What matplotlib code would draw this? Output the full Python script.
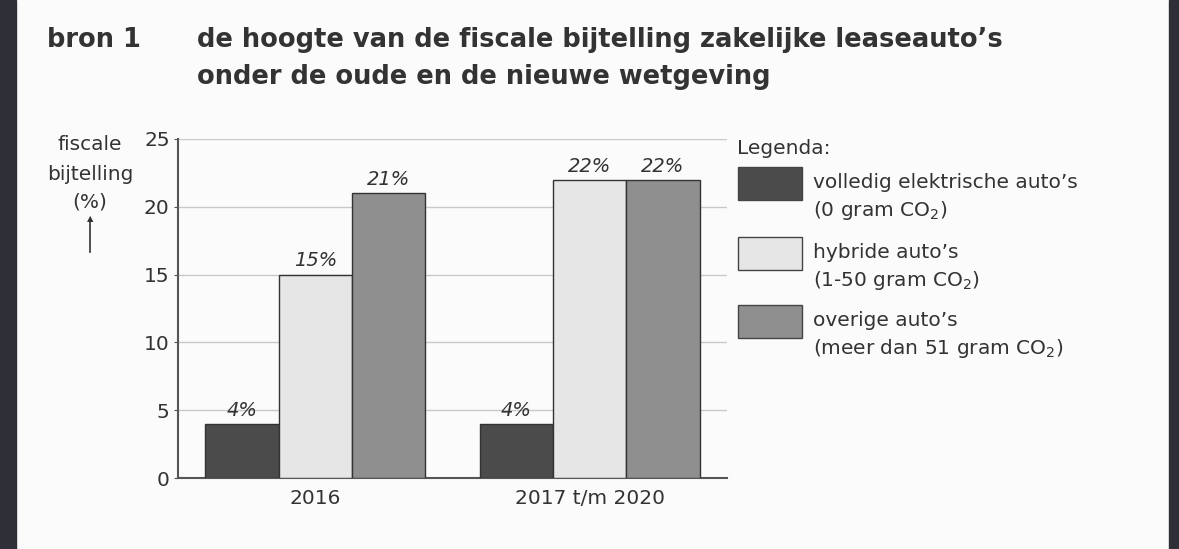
import matplotlib.pyplot as plt
from matplotlib.patches import Rectangle
import numpy as np

# data
periods = ['2016', '2017 t/m 2020']
series_names = ["volledig elektrische auto\u2019s", "hybride auto\u2019s", "overige auto\u2019s"]
series_notes = ['(0 gram CO$_2$)', '(1-50 gram CO$_2$)', '(meer dan 51 gram CO$_2$)']
electric = [4, 4]
hybrid = [15, 22]
other = [21, 22]
colors = ['#4b4b4b', '#e6e6e6', '#8f8f8f']
yticks = [0, 5, 10, 15, 20, 25]

W, H = 1179, 549
fig = plt.figure(figsize=(W / 100, H / 100), dpi=100)
fig.patch.set_facecolor('#fbfbfb')

# dark frame strips at the left and right edge
fig.add_artist(Rectangle((0, 0), 16 / W, 1, transform=fig.transFigure, color='#2f2f37', zorder=0))
fig.add_artist(Rectangle((1169 / W, 0), 10 / W, 1, transform=fig.transFigure, color='#2f2f37', zorder=0))

def fx(px):
    return px / W

def fy(py):
    return 1 - py / H

TXT = '#333333'
FS = 14.5

# heading
fig.text(fx(47), fy(47), 'bron 1', fontsize=18.5, fontweight='bold', color=TXT, va='baseline')
fig.text(fx(197), fy(47), "de hoogte van de fiscale bijtelling zakelijke leaseauto\u2019s",
         fontsize=18.5, fontweight='bold', color=TXT, va='baseline')
fig.text(fx(197), fy(84), 'onder de oude en de nieuwe wetgeving',
         fontsize=18.5, fontweight='bold', color=TXT, va='baseline')

ax = fig.add_axes([fx(178), 1 - 478 / H, (727 - 178) / W, (478 - 139) / H])
ax.set_facecolor('none')

x = np.arange(len(periods))
width = 0.267
for i, (vals, c) in enumerate(zip([electric, hybrid, other], colors)):
    bars = ax.bar(x + (i - 1) * width, vals, width, color=c, edgecolor='#333333',
                  linewidth=1, zorder=3)
    for b, v in zip(bars, vals):
        ax.annotate(f'{v}%', (b.get_x() + b.get_width() / 2, v), xytext=(0, 3),
                    textcoords='offset points', ha='center', va='bottom',
                    fontsize=14, style='italic', color=TXT)

ax.set_xlim(-0.5, 1.5)
ax.set_ylim(0, 25)
ax.set_yticks(yticks)
ax.set_xticks(x)
ax.set_xticklabels(periods)
ax.grid(axis='y', color='#c9c9c9', linewidth=1, zorder=0)
ax.set_axisbelow(True)
for s in ['top', 'right']:
    ax.spines[s].set_visible(False)
for s in ['left', 'bottom']:
    ax.spines[s].set_color('#555555')
    ax.spines[s].set_linewidth(1.5)
ax.tick_params(axis='y', labelsize=FS, length=3, color='#555555', labelcolor=TXT, pad=3)
ax.tick_params(axis='x', labelsize=FS, length=0, labelcolor=TXT, pad=8)

# y-axis title with arrow
fig.text(fx(90), fy(145), 'fiscale', fontsize=FS, color=TXT, ha='center', va='center')
fig.text(fx(90), fy(174), 'bijtelling', fontsize=FS, color=TXT, ha='center', va='center')
fig.text(fx(90), fy(202), '(%)', fontsize=FS, color=TXT, ha='center', va='center')
fig.add_artist(plt.Line2D([fx(90), fx(90)], [fy(252), fy(222)], transform=fig.transFigure,
                          color=TXT, linewidth=1.2))
fig.text(fx(90), fy(219), '\u25b2', fontsize=6, color=TXT, ha='center', va='center')

# legend
fig.text(fx(737), fy(148), 'Legenda:', fontsize=FS, color=TXT, va='center')
row_top = [167, 237, 305]
for top, c, name, note in zip(row_top, colors, series_names, series_notes):
    fig.add_artist(Rectangle((fx(738), fy(top + 33)), 64 / W, 33 / H, transform=fig.transFigure,
                             facecolor=c, edgecolor='#444444', linewidth=1))
    fig.text(fx(813), fy(top + 16), name, fontsize=FS, color=TXT, va='center')
    fig.text(fx(813), fy(top + 43), note, fontsize=FS, color=TXT, va='center')

fig.savefig('out.png', dpi=100, facecolor=fig.get_facecolor())
